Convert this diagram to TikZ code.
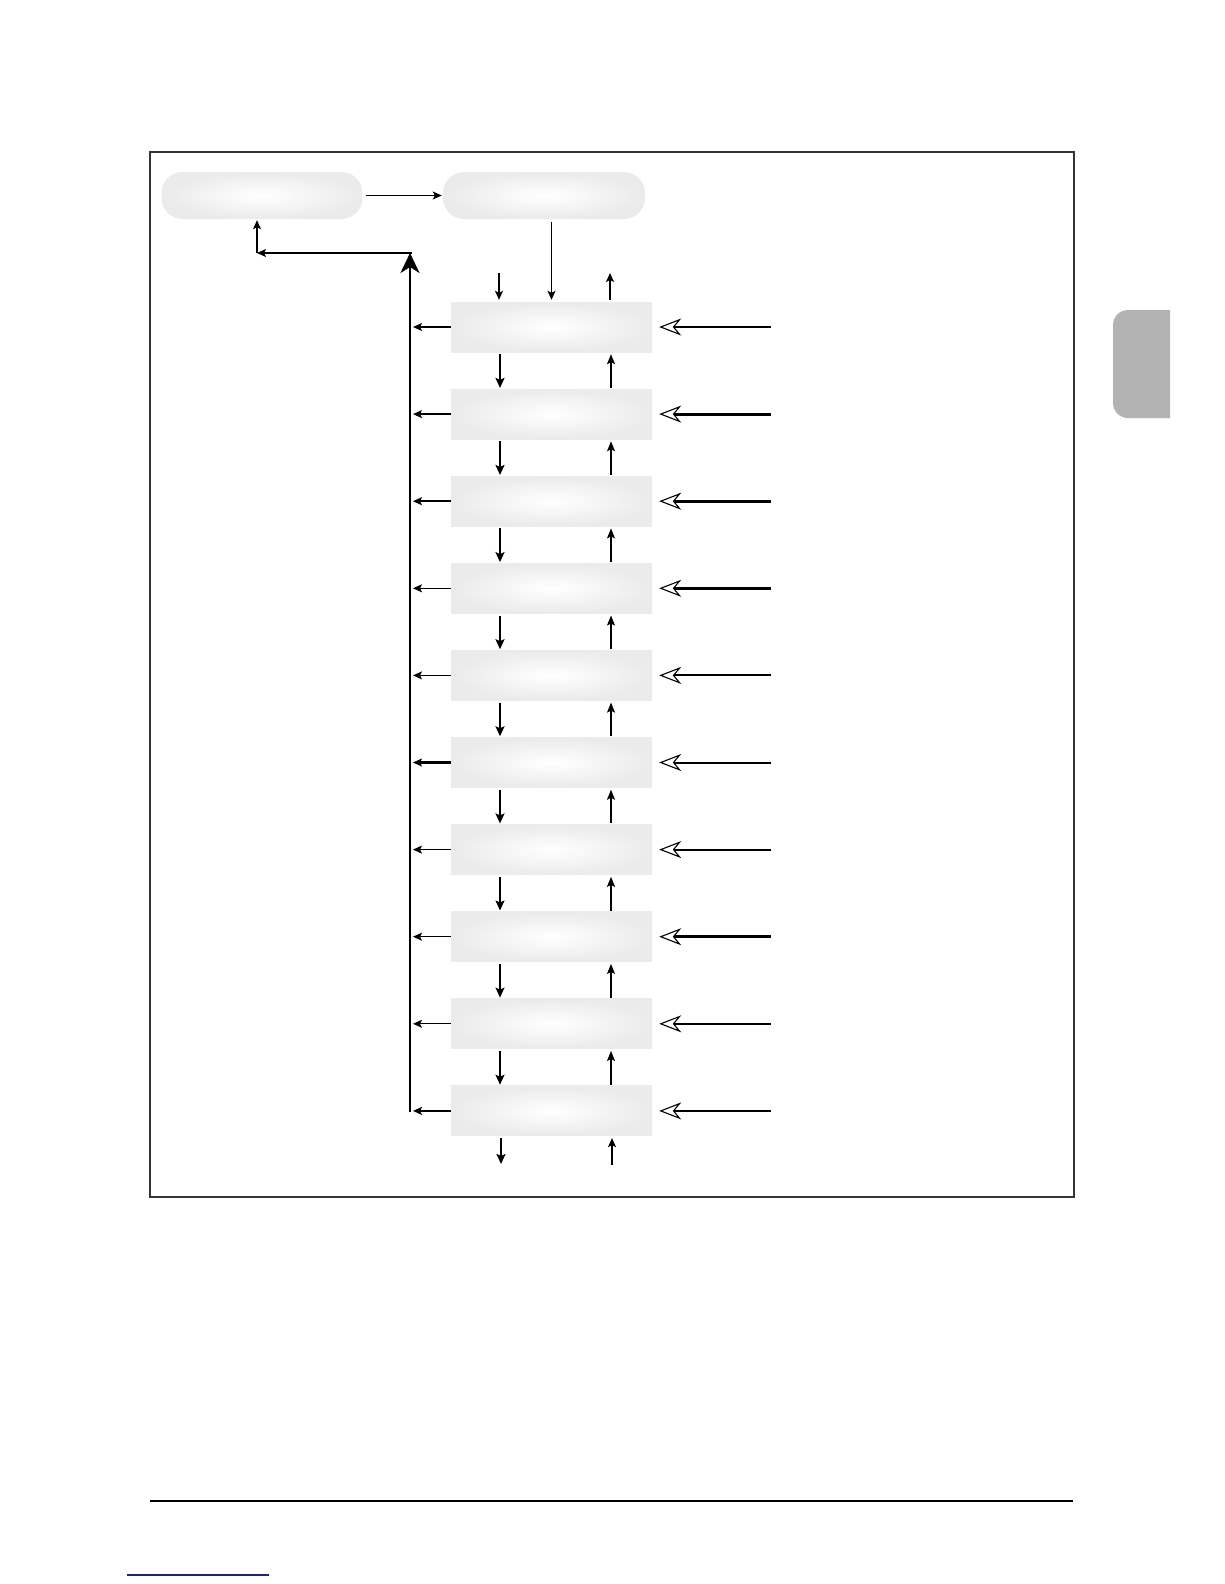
\documentclass[tikz,border=0pt]{standalone}
\usetikzlibrary{arrows.meta,calc}
\definecolor{tabgray}{HTML}{B3B3B3}
\definecolor{linkblue}{HTML}{1A237E}
\tikzset{
  box/.style={minimum width=201pt, minimum height=50pt, inner sep=0pt, draw=none,
    shading=radial, inner color=white, outer color=black!8},
  pill/.style={box, minimum height=47pt, rounded corners=21pt},
  arr/.style={line width=1.3pt, -{Stealth[length=9pt,width=8pt,inset=2pt]}},
  arrthick/.style={line width=2.4pt, -{Stealth[length=10pt,width=9pt,inset=2pt]}},
  inarr/.style={line width=#1, -{Stealth[open,length=22pt,width=17pt,inset=7pt,line width=1.1pt]}},
  bigarr/.style={line width=2.5pt, -{Stealth[length=20pt,width=19pt,inset=6pt]}},
}
\begin{document}
\begin{tikzpicture}[x=1pt,y=-1pt]
\useasboundingbox (0,0) rectangle (1224,1584);
% frame
\draw[line width=1.8pt, black!80] (150,152) rectangle (1074,1197);
% side tab
\fill[tabgray] (1140,310) [rounded corners=15pt] -- (1113,310) -- (1113,418) -- (1140,418) [sharp corners] -- (1170,418) -- (1170,310) -- cycle;
% footer lines
\draw[line width=1.5pt] (150,1501) -- (1073,1501);
\draw[linkblue, line width=1.3pt] (127,1575) -- (269,1575);

% top boxes
\node[pill] (t1) at (262,195.5) {};
\node[pill, minimum width=202pt] (t2) at (544,195.5) {};
\draw[arr, shorten <=3pt, shorten >=1pt] (t1.east) -- (t2.west);

% stack of boxes
\foreach \i in {1,...,10} {
  \pgfmathsetmacro\yy{327+(\i-1)*87.1}
  \node[box] (r\i) at (551.5,\yy) {};
}
\coordinate (dx) at (500,0);
\coordinate (ux) at (611,0);
\coordinate (lx) at (413,0);
\coordinate (rx) at (771,0);

\draw[arr, shorten <=3pt, shorten >=2pt] (t2.south -| r1.north) -- (r1.north);

% arrows above first and below last box
\coordinate (a1) at (499,273);
\coordinate (a2) at (610,273);
\coordinate (b1) at (501,1164);
\coordinate (b2) at (612,1165);
\draw[arr, shorten >=2pt] (a1) -- (r1.north -| a1);
\draw[arr, shorten <=2pt] (r1.north -| a2) -- (a2);
\draw[arrthick, shorten <=2pt] (r10.south -| b1) -- (b1);
\draw[arr, shorten >=2pt] (b2) -- (r10.south -| b2);

% down arrows between boxes
\foreach \i/\j/\w in {1/2/2.4,2/3/2.4,3/4/2.4,4/5/2.4,5/6/2.4,6/7/2.4,7/8/1.4,8/9/1.4,9/10/2.4} {
  \draw[line width=\w pt, -{Stealth[length=10pt,width=9pt,inset=2pt]}, shorten <=2pt, shorten >=1pt]
    (r\i.south -| dx) -- (r\j.north -| dx);
}
% up arrows between boxes
\foreach \i/\j/\w in {1/2/1.3,2/3/1.3,3/4/1.3,4/5/1.3,5/6/1.3,6/7/1.3,7/8/2.4,8/9/1.3,9/10/1.3} {
  \draw[line width=\w pt, -{Stealth[length=10pt,width=8pt,inset=2pt]}, shorten <=1pt, shorten >=2pt]
    (r\j.north -| ux) -- (r\i.south -| ux);
}
% left arrows to the collecting line
\foreach \i/\w in {1/1.3,2/1.3,3/1.6,4/1.3,5/1.3,6/2.2,7/1.3,8/1.3,9/1.3,10/2.2} {
  \draw[line width=\w pt, -{Stealth[length=9pt,width=8pt,inset=2pt]}] (r\i.west) -- (r\i.west -| lx);
}
% right incoming arrows
\foreach \i/\w in {1/2.2,2/3,3/3,4/3,5/2,6/2,7/2,8/3,9/2,10/2} {
  \draw[inarr=\w pt, shorten >=7pt] (r\i.east -| rx) -- (r\i.east);
}

% collecting line and return path
\coordinate (vbot) at (410,1112);
\coordinate (vtop) at (410,253);
\coordinate (corner) at (257,253);
\draw[bigarr] (vbot) -- (vtop);
\draw[arr, shorten <=-2pt] (vtop) -- (corner);
\draw[arr, shorten >=1pt] (corner) -- (t1.south -| corner);
\end{tikzpicture}
\end{document}
